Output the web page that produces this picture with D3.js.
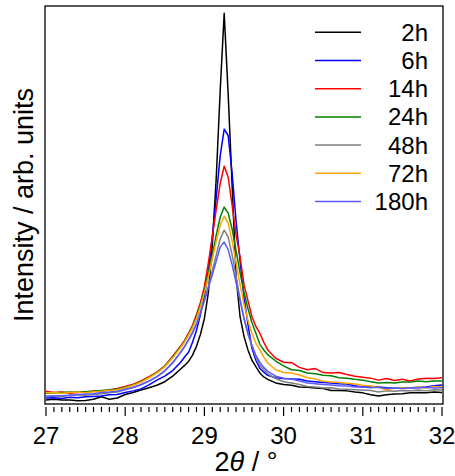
<!DOCTYPE html>
<html>
  <head>
    <meta charset="utf-8" />
    <title>XRD peak</title>
    <script src="https://d3js.org/d3.v7.min.js"></script>
    <style>
      body { margin: 0; background: white; }
      text { font-family: "Liberation Sans", Arial, sans-serif; fill: black; }
    </style>
  </head>
  <body>
    <svg width="455" height="476" id="chart"></svg>
    <script>
      // 2theta positions (deg)
      var twoTheta = [
        27.0, 27.1, 27.2, 27.3, 27.4, 27.5, 27.6, 27.7, 27.8, 27.9, 28.0, 28.1, 28.2, 28.3, 28.4, 28.5, 28.6,
        28.7, 28.75, 28.8, 28.85, 28.9, 28.95, 29.0, 29.05, 29.1, 29.15, 29.2, 29.25, 29.3, 29.35, 29.4, 29.45, 29.5, 29.55, 29.6, 29.65, 29.7, 29.75, 29.8,
        29.9, 30.0, 30.1, 30.2, 30.3, 30.4, 30.5, 30.6, 30.7, 30.8, 30.9, 31.0, 31.1, 31.2, 31.3, 31.4, 31.5, 31.6, 31.7, 31.8, 31.9, 32.0
      ];

      var labels = ["2h", "6h", "14h", "24h", "48h", "72h", "180h"];
      var colors = ["#000000", "#0000ff", "#ff0000", "#008000", "#7f7f7f", "#ffa500", "#5a5aff"];

      var i2h = [
        1.0, 1.2, 1.0, 1.0, 0.8, 0.9, 1.2, 1.8, 1.2, 1.5, 2.4, 2.9, 3.5, 4.1, 4.7, 5.6, 7.0,
        8.8, 9.7, 10.7, 12.3, 14.5, 17.5, 21.5, 28.0, 40.0, 57.0, 79.0, 98.2, 78.0, 55.0, 32.0, 22.0, 17.0, 13.6, 11.0, 9.4, 7.8, 6.8, 6.2,
        5.3, 4.9, 4.7, 4.3, 4.2, 4.0, 3.9, 3.4, 3.4, 3.3, 3.0, 2.8, 2.3, 2.0, 2.3, 2.5, 2.6, 2.8, 2.9, 2.8, 3.0, 2.9
      ];
      var i6h = [
        1.5, 1.6, 1.4, 1.7, 1.6, 1.8, 1.9, 2.0, 2.3, 2.4, 2.9, 3.3, 3.8, 4.8, 6.0, 7.0, 8.4,
        10.5, 11.8, 13.0, 15.5, 18.5, 22.5, 27.0, 33.5, 42.0, 52.0, 62.5, 69.1, 67.5, 58.0, 46.0, 36.0, 27.0, 20.0, 14.0, 11.0, 9.0, 8.0, 7.2,
        6.6, 6.4, 6.3, 6.2, 5.8, 5.6, 5.4, 5.3, 5.1, 5.0, 4.6, 4.3, 4.4, 4.3, 4.1, 4.0, 4.1, 4.0, 4.2, 4.3, 4.6, 4.8
      ];
      var i14h = [
        3.2, 2.9, 3.0, 2.7, 2.9, 3.0, 3.3, 3.2, 3.6, 3.9, 4.4, 5.0, 5.8, 6.9, 8.0, 9.6, 12.0,
        14.6, 16.0, 17.8, 19.8, 22.5, 25.5, 29.5, 35.5, 42.0, 49.0, 55.5, 59.8, 57.0, 50.0, 42.5, 37.0, 30.0, 26.0, 22.0, 19.5, 17.8, 15.5, 13.6,
        11.5, 10.5, 10.4, 9.2, 8.6, 8.9, 7.9, 7.8, 7.9, 7.4, 7.0, 6.7, 6.5, 6.0, 6.4, 5.9, 6.2, 5.8, 6.3, 6.5, 6.4, 6.6
      ];
      var i24h = [
        2.7, 2.8, 2.9, 3.0, 3.0, 3.1, 3.2, 3.4, 3.5, 3.8, 4.2, 4.8, 5.6, 6.7, 7.9, 9.5, 11.8,
        14.4, 15.8, 17.5, 19.5, 22.0, 25.0, 28.5, 33.0, 37.5, 42.5, 47.0, 49.5, 48.0, 44.0, 38.5, 33.0, 28.0, 24.0, 20.5, 17.8, 15.0, 13.6, 12.4,
        10.8, 9.6, 8.6, 8.4, 7.8, 7.6, 7.2, 7.1, 6.6, 6.5, 6.2, 6.0, 5.6, 5.3, 5.4, 5.3, 5.5, 5.5, 5.8, 5.6, 5.8, 5.8
      ];
      var i48h = [
        2.0, 2.1, 1.9, 2.2, 2.3, 2.2, 2.4, 2.6, 2.8, 3.0, 3.6, 4.1, 4.8, 5.7, 6.8, 8.3, 10.3,
        13.0, 14.4, 16.0, 17.8, 20.0, 23.0, 26.0, 29.5, 33.5, 37.5, 41.5, 43.7, 42.0, 37.5, 32.0, 26.5, 21.5, 17.5, 14.5, 11.8, 9.8, 8.6, 7.6,
        6.4, 5.6, 5.3, 4.9, 4.4, 4.3, 4.0, 4.1, 3.8, 3.7, 3.6, 3.5, 3.4, 3.0, 3.3, 3.2, 3.4, 3.3, 3.5, 3.3, 3.6, 3.5
      ];
      var i72h = [
        2.8, 2.9, 2.7, 2.9, 3.0, 2.8, 3.1, 3.2, 3.4, 3.6, 4.1, 4.7, 5.5, 6.6, 7.8, 9.4, 11.6,
        14.2, 15.6, 17.3, 19.2, 21.5, 24.5, 28.0, 32.0, 36.5, 41.0, 45.0, 47.2, 45.5, 41.0, 35.5, 30.0, 25.0, 21.0, 17.8, 15.3, 13.6, 11.8, 10.3,
        8.6, 7.9, 7.8, 7.3, 6.6, 6.3, 5.7, 5.5, 5.4, 5.2, 5.0, 4.7, 4.5, 4.2, 3.5, 4.0, 4.1, 4.0, 4.3, 4.0, 4.4, 4.3
      ];
      var i180h = [
        1.8, 2.0, 2.1, 2.2, 2.3, 2.5, 2.6, 2.9, 3.0, 3.2, 3.7, 4.2, 4.9, 5.8, 6.9, 8.4, 10.4,
        13.0, 14.5, 16.2, 18.0, 20.2, 23.0, 26.0, 29.2, 32.5, 36.0, 39.5, 40.7, 38.8, 35.0, 30.5, 26.0, 21.5, 17.8, 14.8, 12.2, 10.5, 9.2, 8.2,
        7.0, 6.5, 6.3, 5.8, 5.3, 5.1, 4.9, 4.8, 4.6, 4.5, 4.3, 4.3, 4.1, 4.2, 3.9, 4.0, 3.9, 4.1, 4.0, 4.2, 4.0, 4.1
      ];

      var xTickLabels = [27, 28, 29, 30, 31, 32];

      var seriesList = [i2h, i6h, i14h, i24h, i48h, i72h, i180h];

      var svg = d3.select("#chart");
      var plotLeft = 45, plotRight = 443, plotTop = 6, plotBottom = 404;

      var x = d3.scaleLinear().domain([27, 32]).range([46, 442]);
      var y = d3.scaleLinear().domain([0, 100]).range([plotBottom, plotTop + 0.2]);

      //build data table for the lines
      var series = labels.map(function(name, k){
        return {
          name: name,
          color: colors[k],
          values: twoTheta.map(function(t, j){ return {t: t, v: seriesList[k][j]}; })
        };
      });

      var line = d3.line()
        .x(function(d){ return x(d.t); })
        .y(function(d){ return y(d.v); });

      svg.append("defs").append("clipPath").attr("id", "clip")
        .append("rect").attr("x", plotLeft).attr("y", plotTop)
        .attr("width", plotRight - plotLeft).attr("height", plotBottom - plotTop);

      svg.append("g").attr("clip-path", "url(#clip)")
        .selectAll("path")
        .data(series)
        .enter().append("path")
        .attr("d", function(d){ return line(d.values); })
        .attr("fill", "none")
        .attr("stroke", function(d){ return d.color; })
        .attr("stroke-width", 1.5)
        .attr("stroke-linejoin", "round");

      //frame
      svg.append("rect")
        .attr("x", plotLeft).attr("y", plotTop)
        .attr("width", plotRight - plotLeft).attr("height", plotBottom - plotTop)
        .attr("fill", "none").attr("stroke", "black").attr("stroke-width", 1.3);

      //x axis ticks below the frame, pointing down
      var minorTicks = d3.range(270, 321).map(function(k){ return k / 10; });
      var axisG = svg.append("g").attr("transform", "translate(0,407)");
      axisG.selectAll("line.minor")
        .data(minorTicks)
        .enter().append("line")
        .attr("class", "minor")
        .attr("x1", function(d){ return x(d); }).attr("x2", function(d){ return x(d); })
        .attr("y1", 0)
        .attr("y2", function(d){ return Math.abs(d - Math.round(d)) < 1e-6 ? 9 : 5; })
        .attr("stroke", "black").attr("stroke-width", 1.2);

      svg.selectAll("text.xtick")
        .data(xTickLabels)
        .enter().append("text")
        .attr("class", "xtick")
        .attr("x", function(d){ return x(d); })
        .attr("y", 444)
        .attr("text-anchor", "middle")
        .style("font-size", "24px")
        .text(function(d){ return d; });

      //axis titles
      var xt = svg.append("text")
        .attr("x", 246).attr("y", 471)
        .attr("text-anchor", "middle")
        .style("font-size", "27px");
      xt.append("tspan").text("2");
      xt.append("tspan").style("font-style", "italic").text("\u03b8");
      xt.append("tspan").text(" / \u00b0");

      svg.append("text")
        .attr("transform", "translate(33,205) rotate(-90)")
        .attr("text-anchor", "middle")
        .style("font-size", "27px")
        .text("Intensity / arb. units");

      //legend
      var legend = svg.selectAll("g.legend")
        .data(series)
        .enter().append("g")
        .attr("class", "legend")
        .attr("transform", function(d, k){ return "translate(0," + (32.3 + k * 28.2) + ")"; });
      legend.append("line")
        .attr("x1", 315).attr("x2", 361)
        .attr("y1", 0).attr("y2", 0)
        .attr("stroke", function(d){ return d.color; })
        .attr("stroke-width", 1.5);
      legend.append("text")
        .attr("x", 428).attr("y", 8.5)
        .attr("text-anchor", "end")
        .style("font-size", "24px")
        .text(function(d){ return d.name; });
    </script>
  </body>
</html>
